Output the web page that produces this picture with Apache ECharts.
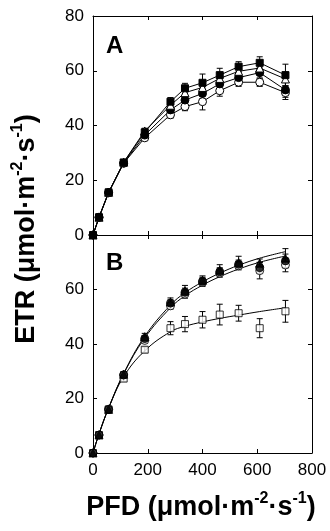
<!DOCTYPE html>
<html><head><meta charset="utf-8">
<script src="https://cdn.jsdelivr.net/npm/echarts@6/dist/echarts.min.js"></script>
<style>html,body{margin:0;padding:0;background:#fff}#c{width:330px;height:531px}</style>
</head><body><div id="c"></div>
<script>
const pfd = [0, 22, 57, 112, 189, 283, 336, 400, 463, 532, 609, 703];
const xTicks = [0, 200, 400, 600, 800];
const yTicks = [0, 20, 40, 60, 80];

// Panel A (connected points)
const aFilledSquare = [0, 6.5, 15.6, 26.5, 37.5, 48.7, 53.6, 55.6, 58.4, 61.5, 62.9, 58.4];
const aOpenTriangle = [0, 6.5, 15.6, 26.6, 38.0, 47.4, 52.0, 53.9, 57.2, 59.8, 61.0, 57.0];
const aFilledCircle = [0, 6.5, 15.5, 26.3, 36.5, 45.7, 49.3, 51.7, 55.2, 57.5, 59.3, 53.0];
const aOpenCircle   = [0, 6.4, 15.4, 26.2, 35.5, 43.9, 46.9, 48.7, 52.7, 55.8, 55.8, 52.0];
const aFilledSquareErr = [0, 0.3, 0.5, 0.8, 1.2, 1.5, 1.8, 3.2, 2.5, 1.8, 2.2, 4.0];
const aOpenTriangleErr = [0, 0.3, 0.5, 0.8, 1.0, 1.2, 1.5, 1.5, 1.8, 1.5, 1.8, 2.5];
const aFilledCircleErr = [0, 0.3, 0.5, 0.8, 1.0, 1.5, 1.8, 2.0, 2.0, 1.8, 2.0, 2.7];
const aOpenCircleErr   = [0, 0.3, 0.5, 0.8, 1.0, 1.2, 1.5, 3.0, 2.0, 1.5, 1.5, 2.5];

// Panel B (points + fitted curves)
const bFilledTriangle = [0, 6.6, 16.0, 28.9, 42.7, 55.5, 59.5, 63.4, 67.1, 69.9, 69.7, 71.5];
const bFilledCircle   = [0, 6.6, 16.0, 28.7, 42.0, 55.0, 59.0, 63.0, 66.5, 69.3, 68.0, 70.5];
const bOpenCircle     = [0, 6.6, 16.0, 28.6, 41.3, 54.0, 58.3, 62.6, 66.0, 68.7, 66.9, 69.0];
const bOpenSquare     = [0, 6.6, 16.0, 27.3, 37.9, 45.8, 47.3, 48.9, 50.8, 51.3, 45.8, 52.0];
const bFilledTriangleErr = [0, 0.3, 0.5, 1.0, 1.2, 1.4, 2.0, 1.6, 2.0, 2.3, 1.5, 3.5];
const bFilledCircleErr   = [0, 0.3, 0.5, 1.0, 1.0, 1.2, 1.5, 1.5, 1.5, 1.5, 2.0, 2.5];
const bOpenCircleErr     = [0, 0.3, 0.5, 1.0, 1.0, 1.2, 1.5, 1.5, 1.5, 1.5, 3.0, 2.5];
const bOpenSquareErr     = [0, 0.3, 0.5, 1.0, 1.0, 2.4, 2.8, 3.0, 3.8, 2.9, 3.5, 4.0];
const fitX = [0, 22, 57, 112, 189, 283, 336, 400, 463, 532, 609, 703];
const fitUpper  = [0, 7.0, 16.5, 29.2, 42.8, 54.3, 58.8, 62.8, 66.0, 68.9, 71.5, 73.9];
const fitMiddle = [0, 7.0, 16.5, 29.0, 42.2, 53.3, 57.7, 61.6, 64.7, 67.5, 70.0, 72.3];
const fitLower  = [0, 7.0, 16.5, 28.0, 37.5, 44.5, 46.5, 48.1, 49.4, 50.6, 51.9, 53.3];

const FONT = 'Liberation Sans, Arial, sans-serif';
const chart = echarts.init(document.getElementById('c'), null, {renderer: 'canvas'});

function pts(xs, ys) { return xs.map((x, i) => [x, ys[i]]); }
function errs(xs, ys, es) {
  return xs.map((x, i) => [x, ys[i] - es[i], ys[i] + es[i]]).filter((d, i) => es[i] > 0);
}
function errSeries(xs, ys, es, gi) {
  return {
    type: 'custom', xAxisIndex: gi * 2, yAxisIndex: gi * 2, z: 1, silent: true,
    data: errs(xs, ys, es),
    renderItem: function (params, api) {
      const x = api.value(0);
      const p1 = api.coord([x, api.value(1)]);
      const p2 = api.coord([x, api.value(2)]);
      const w = 3;
      const st = {stroke: '#000', lineWidth: 1};
      return {type: 'group', children: [
        {type: 'line', shape: {x1: p1[0], y1: p1[1], x2: p2[0], y2: p2[1]}, style: st},
        {type: 'line', shape: {x1: p1[0] - w, y1: p1[1], x2: p1[0] + w, y2: p1[1]}, style: st},
        {type: 'line', shape: {x1: p2[0] - w, y1: p2[1], x2: p2[0] + w, y2: p2[1]}, style: st}
      ]};
    }
  };
}
function markSeries(type, xs, ys, symbol, filled, gi, size) {
  return {
    type: type, xAxisIndex: gi * 2, yAxisIndex: gi * 2, z: 3,
    data: pts(xs, ys), symbol: symbol, symbolSize: size || 7,
    showSymbol: true, animation: false, silent: true,
    lineStyle: {color: '#000', width: 1},
    itemStyle: {color: filled ? '#000' : '#fff', borderColor: '#000', borderWidth: 1}
  };
}
function fitSeries(xs, ys) {
  return {
    type: 'line', xAxisIndex: 2, yAxisIndex: 2, z: 2, smooth: 0.4,
    data: pts(xs, ys), showSymbol: false, symbol: 'none', silent: true, animation: false,
    lineStyle: {color: '#000', width: 1}
  };
}
function xAx(gi, pos, labels) {
  return {
    type: 'value', gridIndex: gi, position: pos, min: 0, max: 800, interval: 200,
    axisLine: {show: true, onZero: false, lineStyle: {color: '#000', width: 1}},
    axisTick: {show: true, inside: true, length: 4, lineStyle: {color: '#000'}},
    axisLabel: {show: labels, color: '#000', fontSize: 17, fontFamily: FONT, margin: 9,
      formatter: v => xTicks.indexOf(v) >= 0 ? String(v) : ''},
    splitLine: {show: false}
  };
}
function yAx(gi, pos, labels, hideTop) {
  return {
    type: 'value', gridIndex: gi, position: pos, min: 0, max: 80, interval: 20,
    axisLine: {show: true, onZero: false, lineStyle: {color: '#000', width: 1}},
    axisTick: {show: true, inside: true, length: 4, lineStyle: {color: '#000'}},
    axisLabel: {show: labels, color: '#000', fontSize: 17, fontFamily: FONT, margin: 9,
      formatter: v => (hideTop && v === 80) ? '' : (yTicks.indexOf(v) >= 0 ? String(v) : '')},
    splitLine: {show: false}
  };
}

const titleRich = {
  b: {fontSize: 27, fontWeight: 'bold', fontFamily: FONT, color: '#000', lineHeight: 30, verticalAlign: 'bottom'},
  s: {fontSize: 16, fontWeight: 'bold', fontFamily: FONT, color: '#000', lineHeight: 30, verticalAlign: 'top'}
};

chart.setOption({
  animation: false,
  backgroundColor: '#fff',
  grid: [
    {left: 93, top: 16, width: 219, height: 219},
    {left: 93, top: 235, width: 219, height: 218}
  ],
  xAxis: [xAx(0, 'bottom', false), xAx(0, 'top', false), xAx(1, 'bottom', true), xAx(1, 'top', false)],
  yAxis: [yAx(0, 'left', true, false), yAx(0, 'right', false, false), yAx(1, 'left', true, true), yAx(1, 'right', false, false)],
  series: [
    errSeries(pfd, aFilledSquare, aFilledSquareErr, 0),
    errSeries(pfd, aOpenTriangle, aOpenTriangleErr, 0),
    errSeries(pfd, aFilledCircle, aFilledCircleErr, 0),
    errSeries(pfd, aOpenCircle, aOpenCircleErr, 0),
    markSeries('line', pfd, aOpenCircle, 'circle', false, 0, 8),
    markSeries('line', pfd, aFilledCircle, 'circle', true, 0, 8),
    markSeries('line', pfd, aOpenTriangle, 'triangle', false, 0, 8),
    markSeries('line', pfd, aFilledSquare, 'rect', true, 0, 7),
    errSeries(pfd, bFilledTriangle, bFilledTriangleErr, 1),
    errSeries(pfd, bFilledCircle, bFilledCircleErr, 1),
    errSeries(pfd, bOpenCircle, bOpenCircleErr, 1),
    errSeries(pfd, bOpenSquare, bOpenSquareErr, 1),
    fitSeries(fitX, fitUpper),
    fitSeries(fitX, fitMiddle),
    fitSeries(fitX, fitLower),
    markSeries('scatter', pfd, bOpenSquare, 'rect', false, 1, 7),
    markSeries('scatter', pfd, bOpenCircle, 'circle', false, 1, 8),
    markSeries('scatter', pfd, bFilledCircle, 'circle', true, 1, 8),
    markSeries('scatter', pfd, bFilledTriangle, 'triangle', true, 1, 8)
  ],
  graphic: [
    {type: 'text', left: 106, top: 34, style: {text: 'A', font: 'bold 24px ' + FONT, fill: '#000'}},
    {type: 'text', left: 106, top: 251, style: {text: 'B', font: 'bold 24px ' + FONT, fill: '#000'}},
    {type: 'text', x: 201, y: 506, style: {
      text: '{b|PFD (μmol·m}{s|-2}{b|·s}{s|-1}{b|)}', rich: titleRich,
      align: 'center', verticalAlign: 'middle'}},
    {type: 'text', x: 25, y: 229, rotation: Math.PI / 2, style: {
      text: '{b|ETR (μmol·m}{s|-2}{b|·s}{s|-1}{b|)}', rich: titleRich,
      align: 'center', verticalAlign: 'middle'}}
  ]
});
</script></body></html>
